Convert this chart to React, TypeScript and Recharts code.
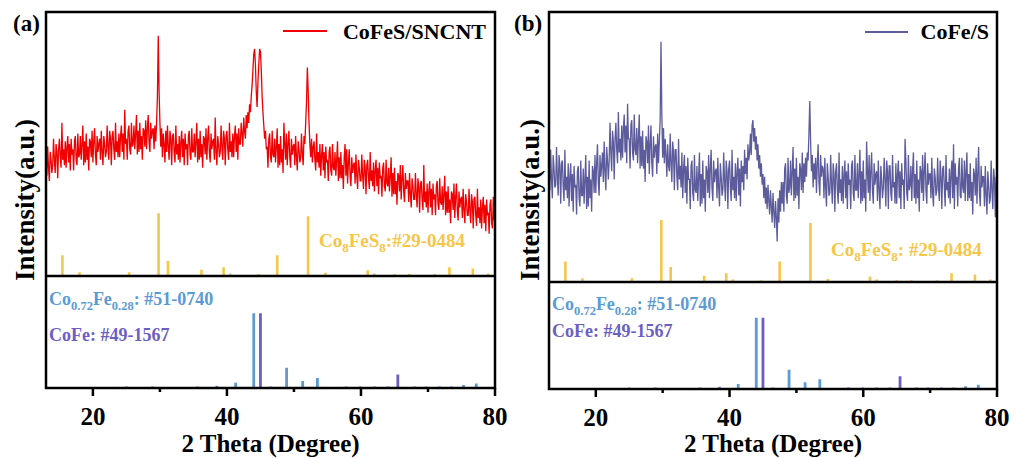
import React from 'react';
import { ComposedChart, Line, XAxis, YAxis, Label } from 'recharts';

// 2θ scan: start and instrument step
const SCAN_START = 13;
const SCAN_STEP = 0.125;

// CoFeS/SNCNT intensities (a.u.), 8 values per degree from 13° to 80°
const cofesSncnt = [
  46,38,49,41,36,47,44,39, 42,52,44,39,50,47,37,48, 52,45,41,58,44,48,42,51, 41,49,53,43,50,40,52,46,
  48,40,51,53,44,42,54,45, 46,53,44,50,57,42,51,43, 54,44,49,40,52,51,45,55, 43,51,56,46,42,53,47,50,
  52,44,55,47,42,53,50,45, 47,57,49,44,55,52,42,53, 55,48,44,58,47,51,45,54, 45,53,57,47,54,44,63,50,
  52,44,55,57,48,46,58,49, 50,57,48,54,61,46,55,47, 58,48,53,44,56,55,49,59, 48,56,61,51,47,58,52,55,
  56,48,57,51,58,68,91,70, 58,49,56,45,54,50,43,55, 47,57,49,44,55,52,42,53, 54,47,43,57,46,50,44,53,
  43,51,55,45,52,42,54,48, 50,42,53,55,46,44,56,47, 47,54,45,51,58,43,52,44, 55,45,50,41,53,52,46,56,
  44,52,57,47,43,54,48,51, 52,44,60,47,42,53,50,45, 47,57,49,44,55,52,42,53, 55,48,44,58,47,51,45,54,
  45,53,57,47,54,44,56,50, 50,58,54,49,60,55,52,61, 56,62,58,65,62,68,72,78, 84,86,80,70,64,73,80,86,
  85,78,68,62,57,52,55,48, 49,41,52,54,45,43,55,46, 45,52,43,49,56,41,50,42, 53,43,48,39,58,50,44,54,
  42,50,55,45,41,52,46,49, 50,42,53,45,40,51,48,43, 45,54,46,42,53,50,58,66, 79,70,58,50,45,52,43,49,
  51,44,40,54,43,47,41,50, 38,46,50,40,47,37,49,43, 44,36,47,49,40,38,50,41, 40,47,38,44,51,36,45,37,
  47,37,42,33,45,50,38,48, 35,43,48,38,34,45,39,42, 43,35,46,38,33,44,41,36, 36,46,38,33,44,41,31,42,
  44,37,33,47,36,40,34,43, 32,40,44,34,41,31,43,37, 38,30,41,43,34,32,44,35, 34,41,32,38,45,30,39,31,
  41,31,36,27,39,38,32,42, 29,37,42,32,28,39,33,36, 36,28,39,31,26,37,34,29, 29,39,31,26,37,34,24,35,
  36,29,25,42,28,32,26,35, 24,32,36,26,33,23,35,29, 31,23,34,36,27,25,37,28, 27,34,25,31,38,23,32,24,
  34,24,29,20,32,31,25,35, 22,30,35,25,21,32,26,29, 30,22,33,25,20,31,28,23, 23,33,25,20,31,28,18,29,
  30,23,19,33,22,26,20,29, 18,26,30,20,27,17,29,23, 24,16,27,29,20,18,30,21,
  22,
];

// CoFe/S intensities (a.u.), 8 values per degree from 13° to 80°
const cofeS = [
  45,34,49,38,31,47,42,35, 36,50,39,32,47,43,29,44, 45,35,30,49,34,39,31,44, 28,39,44,30,40,26,43,35,
  36,25,41,43,31,28,45,32, 32,42,29,38,47,27,39,28, 45,31,38,26,43,41,33,47, 33,44,51,37,32,47,39,43,
  48,37,52,41,34,50,45,38, 45,59,48,41,56,52,38,53, 59,49,44,63,48,53,45,58, 46,57,62,48,58,44,66,53,
  53,42,58,60,48,45,62,49, 47,57,44,53,62,42,54,43, 56,42,49,37,54,52,44,58, 40,51,58,44,39,54,46,50,
  51,40,55,44,52,60,89,62, 46,57,44,53,47,39,51,43, 41,55,44,37,52,48,34,49, 49,39,34,53,38,43,35,48,
  31,42,47,33,43,29,46,38, 38,27,43,45,33,30,47,34, 33,43,30,39,48,28,40,29, 45,31,38,26,43,41,33,47,
  31,42,49,35,30,45,37,41, 42,31,46,35,28,44,39,32, 34,48,37,30,45,41,27,42, 45,35,30,49,34,39,31,44,
  30,41,46,32,42,28,45,37, 43,34,49,40,46,38,51,45, 48,55,47,58,60,52,57,49, 54,45,51,42,47,39,44,36,
  40,31,39,29,35,27,36,30, 25,34,28,22,33,26,20,30, 24,15,31,22,34,26,37,29, 37,26,42,44,32,29,46,33,
  35,45,32,41,50,30,42,31, 46,32,39,27,44,42,34,48, 33,44,37,46,39,48,45,55, 67,52,41,47,35,44,38,46,
  33,44,51,37,32,47,39,43, 42,31,46,35,28,44,39,32, 33,47,36,29,44,40,26,41, 44,34,29,48,33,38,30,43,
  29,40,45,31,41,27,44,36, 38,27,43,45,33,30,47,34, 34,44,31,40,49,29,41,30, 45,31,38,26,52,41,33,47,
  30,41,48,34,29,44,36,40, 41,30,45,34,27,43,38,31, 35,46,38,28,45,41,27,43, 43,33,30,47,35,37,29,44,
  29,40,45,31,41,27,44,36, 38,27,53,45,33,30,47,34, 36,43,30,41,48,31,40,29, 45,31,38,26,43,41,33,47,
  30,41,48,34,29,44,36,40, 40,31,46,33,28,42,39,32, 34,46,35,30,45,39,27,42, 43,35,28,47,34,37,31,42,
  29,40,45,31,51,27,44,36, 39,28,42,46,32,31,46,35, 33,45,30,41,48,30,40,31, 44,30,37,25,42,40,32,46,
  29,40,50,33,28,43,35,39, 39,28,43,32,25,41,36,29, 31,45,34,27,42,38,24,39,
  33,
];

// Co8FeS8 reference pattern #29-0484 (position, relative intensity)
const co8fes8Pos = [15.45, 18.0, 25.4, 29.8, 31.2, 36.2, 39.5, 40.5, 44.7, 47.5, 52.1, 54.7, 61.0, 62.0, 65.0, 67.2, 71.0, 73.2, 76.7, 79.0];
const co8fes8Int = [33, 6, 6, 100, 24, 10, 14, 4, 3, 33, 95, 5, 9, 4, 3, 3, 3, 14, 12, 4];

// Co0.72Fe0.28 reference pattern #51-0740
const coFeAlloyPos = [25.0, 28.9, 35.6, 38.5, 41.3, 44.0, 46.5, 48.9, 51.3, 53.5, 57.8, 59.9, 62.0, 64.0, 68.0, 69.7, 71.7, 73.5, 75.3, 77.2];
const coFeAlloyInt = [2, 2, 2, 3, 7, 100, 2, 27, 9.5, 13.5, 2, 2, 2, 2, 2, 2, 2, 2, 4, 6];

// CoFe reference pattern #49-1567
const coFePos = [45.0, 65.5];
const coFeInt = [100, 18];

const xTicks = [20, 30, 40, 50, 60, 70, 80];

const FONT = "'Liberation Serif', 'Times New Roman', serif";
const RED = '#f00000';
const NAVY = '#5c5c9c';
const YELLOW = '#f7c548';
const BLUE = '#5b9bd5';
const PURPLE = '#6c5fc4';

const scanRows = (vals: number[]) => vals.map((v, i) => ({ x: SCAN_START + i * SCAN_STEP, v }));

const stickRows = (pos: number[], inten: number[]) => {
  const rows: { x: number; v: number | null }[] = [];
  pos.forEach((p, i) => {
    rows.push({ x: p, v: 0 });
    rows.push({ x: p, v: inten[i] });
    rows.push({ x: p, v: null });
  });
  return rows;
};

const AxisTick = (props: any) => {
  const { x, y, payload } = props;
  const val = payload.value;
  const major = val % 20 === 0;
  return (
    <g>
      <line x1={x} x2={x} y1={y} y2={y + (major ? 8 : 4)} stroke="#000" strokeWidth={2.5} />
      {major && (
        <text x={x} y={y + 37} textAnchor="middle" fontFamily={FONT} fontWeight="bold" fontSize={25} fill="#000">
          {val}
        </text>
      )}
    </g>
  );
};

type PanelProps = {
  left: number;
  scan: number[];
  color: string;
  topH: number;
  plotBottom: number;
  rightMargin: number;
  refMax: number;
};

const Panel = ({ left, scan, color, topH, plotBottom, rightMargin, refMax }: PanelProps) => {
  const divider = topH - 4;
  const bottomH = 458 - divider;
  const axisH = 458 - plotBottom;
  return (
    <>
      <div style={{ position: 'absolute', left, top: 0 }}>
        <ComposedChart width={520} height={topH} margin={{ top: 12, right: rightMargin, bottom: 4, left: 46 }}>
          <XAxis dataKey="x" type="number" domain={[13, 80]} allowDataOverflow hide />
          <YAxis yAxisId="i" domain={[0, 100]} allowDataOverflow hide />
          <YAxis yAxisId="ref" domain={[0, refMax]} allowDataOverflow hide />
          <Line yAxisId="ref" data={stickRows(co8fes8Pos, co8fes8Int)} dataKey="v" stroke={YELLOW} strokeWidth={2.6} dot={false} activeDot={false} isAnimationActive={false} strokeLinecap="butt" />
          <Line yAxisId="i" data={scanRows(scan)} dataKey="v" stroke={color} strokeWidth={1.3} dot={false} activeDot={false} isAnimationActive={false} />
        </ComposedChart>
      </div>
      <div style={{ position: 'absolute', left, top: divider }}>
        <ComposedChart width={520} height={bottomH} margin={{ top: 0, right: rightMargin, bottom: 0, left: 46 }}>
          <XAxis
            dataKey="x"
            type="number"
            domain={[13, 80]}
            allowDataOverflow
            ticks={xTicks}
            interval={0}
            height={axisH}
            axisLine={false}
            tickLine={false}
            tickSize={0}
            tickMargin={0}
            tick={AxisTick}
          >
            <Label value="2 Theta (Degree)" position="insideBottom" offset={6} fontFamily={FONT} fontWeight="bold" fontSize={25} fill="#000" />
          </XAxis>
          <YAxis domain={[0, 150]} allowDataOverflow hide />
          <Line data={stickRows(coFeAlloyPos, coFeAlloyInt)} dataKey="v" stroke={BLUE} strokeWidth={2.8} dot={false} activeDot={false} isAnimationActive={false} strokeLinecap="butt" />
          <Line data={stickRows(coFePos, coFeInt)} dataKey="v" stroke={PURPLE} strokeWidth={2.8} dot={false} activeDot={false} isAnimationActive={false} strokeLinecap="butt" />
        </ComposedChart>
      </div>
    </>
  );
};

const txt = { fontFamily: FONT, fontWeight: 'bold' as const };

export default function App() {
  return (
    <div style={{ position: 'absolute', left: 0, top: 0, width: 1017, height: 458, overflow: 'hidden', background: '#fff' }}>
      <Panel left={0} scan={cofesSncnt} color={RED} topH={280} plotBottom={388} rightMargin={25} refMax={420} />
      <Panel left={503} scan={cofeS} color={NAVY} topH={286} plotBottom={389} rightMargin={26} refMax={435} />
      <svg width={1017} height={458} style={{ position: 'absolute', left: 0, top: 0, pointerEvents: 'none' }}>
        <rect x={46} y={12} width={449} height={376} fill="none" stroke="#000" strokeWidth={2.5} />
        <line x1={46} x2={495} y1={276} y2={276} stroke="#000" strokeWidth={2.5} />
        <rect x={549} y={12} width={448} height={377} fill="none" stroke="#000" strokeWidth={2.5} />
        <line x1={549} x2={997} y1={282} y2={282} stroke="#000" strokeWidth={2.5} />

        <text x={13} y={31} {...txt} fontSize={23} fill="#000">(a)</text>
        <text x={514} y={31} {...txt} fontSize={23} fill="#000">(b)</text>

        <text x={0} y={0} transform="translate(25,200) rotate(-90)" textAnchor="middle" dominantBaseline="central" {...txt} fontSize={27} fill="#000">Intensity(a.u.)</text>
        <text x={0} y={0} transform="translate(530,200) rotate(-90)" textAnchor="middle" dominantBaseline="central" {...txt} fontSize={27} fill="#000">Intensity(a.u.)</text>

        <line x1={283} x2={327} y1={31} y2={31} stroke={RED} strokeWidth={2} />
        <text x={486} y={39} textAnchor="end" {...txt} fontSize={22} fill="#000">CoFeS/SNCNT</text>
        <line x1={865} x2={908} y1={32} y2={32} stroke={NAVY} strokeWidth={2} />
        <text x={989} y={39} textAnchor="end" {...txt} fontSize={22} fill="#000">CoFe/S</text>

        <text x={319} y={247} {...txt} fontSize={19} fill={YELLOW}>
          Co<tspan fontSize={13} dy={5}>8</tspan><tspan dy={-5}>FeS</tspan><tspan fontSize={13} dy={5}>8</tspan><tspan dy={-5}>:#29-0484</tspan>
        </text>
        <text x={49} y={305} {...txt} fontSize={18} fill={BLUE}>
          Co<tspan fontSize={12.5} dy={5}>0.72</tspan><tspan dy={-5}>Fe</tspan><tspan fontSize={12.5} dy={5}>0.28</tspan><tspan dy={-5}>: #51-0740</tspan>
        </text>
        <text x={49} y={341} {...txt} fontSize={18} fill={PURPLE}>CoFe: #49-1567</text>

        <text x={831} y={256} {...txt} fontSize={19} fill={YELLOW}>
          Co<tspan fontSize={13} dy={5}>8</tspan><tspan dy={-5}>FeS</tspan><tspan fontSize={13} dy={5}>8</tspan><tspan dy={-5}>: #29-0484</tspan>
        </text>
        <text x={552} y={310} {...txt} fontSize={18} fill={BLUE}>
          Co<tspan fontSize={12.5} dy={5}>0.72</tspan><tspan dy={-5}>Fe</tspan><tspan fontSize={12.5} dy={5}>0.28</tspan><tspan dy={-5}>: #51-0740</tspan>
        </text>
        <text x={552} y={337} {...txt} fontSize={18} fill={PURPLE}>CoFe: #49-1567</text>
      </svg>
    </div>
  );
}
